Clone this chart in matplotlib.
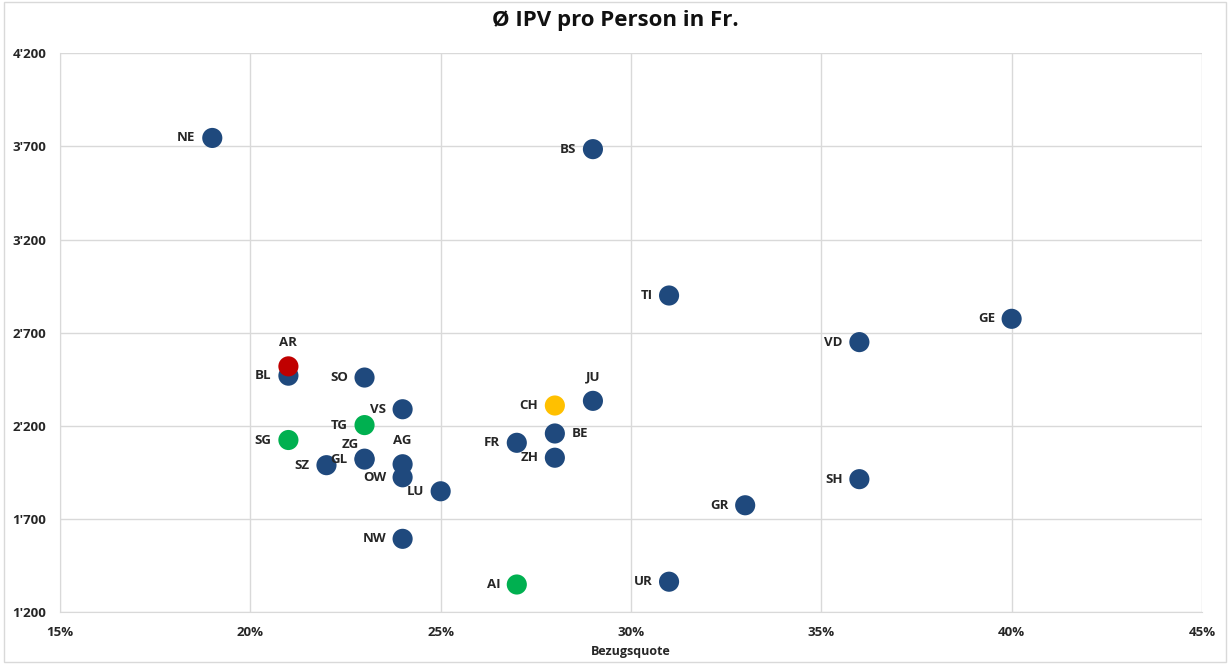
import matplotlib
matplotlib.use("Agg")
import matplotlib.pyplot as plt
from matplotlib.ticker import FuncFormatter, MultipleLocator

# Kantone, Bezugsquote (%) und IPV pro Person (Fr.)
kantone = ["NE", "BS", "TI", "GE", "VD", "BL", "SO", "VS", "JU", "BE", "FR",
           "ZG", "GL", "ZH", "AG", "SZ", "OW", "SH", "LU", "GR", "NW", "UR",
           "AR", "SG", "TG", "AI", "CH"]
quote = [19, 29, 31, 40, 36, 21, 23, 24, 29, 28, 27,
         23, 23, 28, 24, 22, 24, 36, 25, 33, 24, 31,
         21, 21, 23, 27, 28]
ipv = [3745, 3685, 2900, 2775, 2650, 2470, 2460, 2290, 2335, 2160, 2110,
       2025, 2020, 2030, 1995, 1990, 1925, 1915, 1850, 1775, 1595, 1365,
       2520, 2125, 2205, 1350, 2310]
farben = ["#1F497D"] * 22 + ["#C00000", "#00B050", "#00B050", "#00B050", "#FFC000"]
y_ticks = [1200, 1700, 2200, 2700, 3200, 3700, 4200]

# Position der Beschriftung: l = links, o = oben, r = rechts, z = spezial
pos = {"AR": "o", "AG": "o", "JU": "o", "BE": "r", "ZG": "z"}

plt.rcParams['font.family'] = ['Open Sans', 'DejaVu Sans']

fig = plt.figure(figsize=(12.3, 6.64), dpi=100)
ax = fig.add_axes([0.0488, 0.0776, 0.9284, 0.8424])

ax.scatter(quote, ipv, s=210, c=farben, zorder=3, linewidths=0)

fs = 9.5
for k, x, y in zip(kantone, quote, ipv):
    p = pos.get(k, "l")
    if p == "o":
        ax.annotate(k, (x, y), xytext=(0, 17), textcoords="offset points",
                    ha="center", va="center", fontsize=fs, fontweight="bold", color="#262626")
    elif p == "r":
        ax.annotate(k, (x, y), xytext=(12, 0), textcoords="offset points",
                    ha="left", va="center", fontsize=fs, fontweight="bold", color="#262626")
    elif p == "z":
        ax.annotate(k, (x, y), xytext=(-4, 10), textcoords="offset points",
                    ha="right", va="center", fontsize=fs, fontweight="bold", color="#262626")
    else:
        ax.annotate(k, (x, y), xytext=(-12, 0), textcoords="offset points",
                    ha="right", va="center", fontsize=fs, fontweight="bold", color="#262626")

ax.set_xlim(15, 45)
ax.set_ylim(1200, 4200)
ax.xaxis.set_major_locator(MultipleLocator(5))
ax.set_yticks(y_ticks)
ax.xaxis.set_major_formatter(FuncFormatter(lambda v, p: "%d%%" % v))
ax.yaxis.set_major_formatter(FuncFormatter(lambda v, p: "{:,}".format(int(v)).replace(",", "'")))

ax.grid(True, color="#D9D9D9", linewidth=1)
ax.set_axisbelow(True)
for s in ["top", "right"]:
    ax.spines[s].set_visible(False)
for s in ["left", "bottom"]:
    ax.spines[s].set_color("#D9D9D9")
ax.tick_params(length=0, labelsize=fs, pad=10)
for t in ax.get_xticklabels() + ax.get_yticklabels():
    t.set_fontweight("bold")
    t.set_color("#262626")

ax.set_xlabel("Bezugsquote", fontsize=9, fontweight="bold", color="#262626", labelpad=4)
fig.suptitle("Ø IPV pro Person in Fr.", fontsize=16, fontweight="bold", color="#111111", y=0.985)

fig.patches.append(plt.Rectangle((0.003, 0.003), 0.994, 0.994, transform=fig.transFigure,
                                 fill=False, edgecolor="#D9D9D9", linewidth=1))

fig.savefig("out.png", dpi=100)
